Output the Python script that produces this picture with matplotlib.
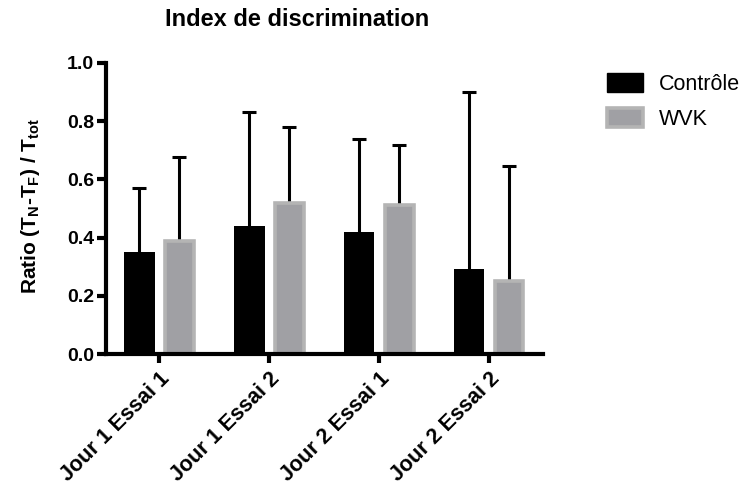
import matplotlib
matplotlib.use("Agg")
import matplotlib.pyplot as plt
from matplotlib.patches import Patch
import numpy as np

categories = ["Jour 1 Essai 1", "Jour 1 Essai 2", "Jour 2 Essai 1", "Jour 2 Essai 2"]
series_names = ["Contrôle", "WVK"]
controle = [0.352, 0.441, 0.420, 0.291]
controle_err = [0.217, 0.389, 0.318, 0.608]
wvk = [0.389, 0.520, 0.511, 0.252]
wvk_err = [0.289, 0.261, 0.207, 0.392]
yticks = [0.0, 0.2, 0.4, 0.6, 0.8, 1.0]

plt.rcParams['font.family'] = ['Liberation Sans', 'DejaVu Sans']
plt.rcParams['mathtext.fontset'] = 'custom'
plt.rcParams['mathtext.bf'] = 'Liberation Sans:bold'
plt.rcParams['mathtext.rm'] = 'Liberation Sans:bold'

fig = plt.figure(figsize=(7.52, 4.87), dpi=100)
ax = fig.add_axes([0.141, 0.273, 0.581, 0.598])

x = np.arange(len(categories))
off = 0.183
w = 0.28
lw_ax = 3.0
gray_face = '#a0a0a4'
gray_edge = '#b4b4b4'

ax.bar(x - off, controle, w, color='black', edgecolor='black', linewidth=0, zorder=2)
ax.bar(x + off, wvk, w - 0.02, color=gray_face, edgecolor=gray_edge, linewidth=2.6, zorder=2)


def up_errors(xs, vals, errs):
    for xi, v, e in zip(xs, vals, errs):
        _, caps, _ = ax.errorbar(xi, v, yerr=[[0], [e]], fmt='none', ecolor='black',
                                 elinewidth=2.2, capsize=5, capthick=2.2, zorder=1)
        for c in caps:
            if abs(c.get_ydata()[0] - v) < 1e-9:
                c.set_visible(False)


up_errors(x - off, controle, controle_err)
up_errors(x + off, wvk, wvk_err)

ax.set_xlim(-0.485, 3.49)
ax.set_ylim(0, 1.0)
ax.set_yticks(yticks)
ax.set_yticklabels([f"{t:.1f}" for t in yticks], fontsize=14, fontweight='bold')
ax.set_xticks(x)
ax.set_xticklabels(categories, rotation=45, ha='right', rotation_mode='anchor',
                   fontsize=15.5, fontweight='bold')

for s in ['top', 'right']:
    ax.spines[s].set_visible(False)
for s in ['left', 'bottom']:
    ax.spines[s].set_linewidth(lw_ax)
ax.tick_params(axis='both', width=lw_ax, length=6.5, direction='out', pad=2)
ax.tick_params(axis='x', pad=4)

ax.set_ylabel(r"Ratio (T$_{\mathbf{N}}$-T$_{\mathbf{F}}$) / T$_{\mathbf{tot}}$",
              fontsize=15, fontweight='bold')
ax.yaxis.set_label_coords(-0.146, 0.51)

fig.text(297 / 752, 1 - 20 / 487, "Index de discrimination", ha='center', va='center',
         fontsize=17, fontweight='bold')

handles = [Patch(facecolor='black', edgecolor='black'),
           Patch(facecolor=gray_face, edgecolor=gray_edge, linewidth=2.6)]
fig.legend(handles, series_names, loc='upper left', bbox_to_anchor=(607 / 752, 1 - 73 / 487),
           frameon=False, fontsize=15.5, handlelength=1.65, handleheight=0.98,
           handletextpad=0.78, labelspacing=0.6, borderaxespad=0, borderpad=0)

fig.savefig("out.png", dpi=100)
